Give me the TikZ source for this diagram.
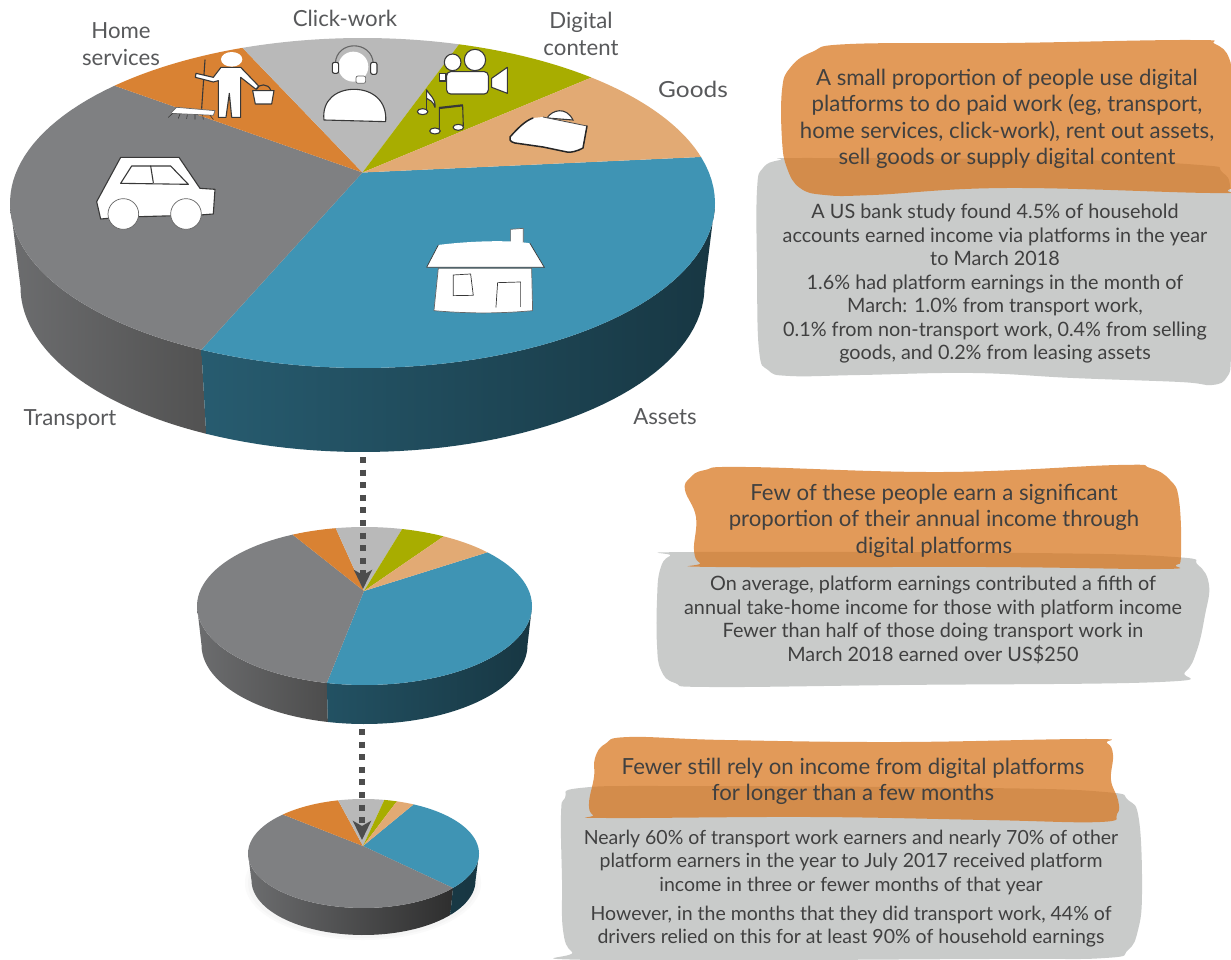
\documentclass[tikz,border=0pt]{standalone}
\usepackage{fontspec}
\setmainfont{Lato}
\usetikzlibrary{arrows.meta}
\definecolor{cTransport}{HTML}{7F8082}
\definecolor{cAssets}{HTML}{3F94B4}
\definecolor{cGoods}{HTML}{E2AA74}
\definecolor{cDigital}{HTML}{A8AD00}
\definecolor{cClick}{HTML}{B9B9B9}
\definecolor{cHome}{HTML}{D98233}
\definecolor{cBlobGrey}{HTML}{C9CBCA}
\definecolor{cBlobOrange}{HTML}{D8741A}
\definecolor{cLabel}{HTML}{58595B}
\definecolor{cInk}{HTML}{404040}
\definecolor{cArrow}{HTML}{4D4D4D}
\newcommand{\slicepart}[9]{\fill[#9] (#7,#8) -- plot[domain=#5:#6,samples=50,variable=\t] ({#1+#3*cos(\t)},{#2-#4*sin(\t)}) -- cycle;}
% cx cy rx ry | cy2 rx2 | t1 t2 | style
\newcommand{\sidepart}[9]{\shade[#9] plot[domain=#7:#8,samples=50,variable=\t] ({#1+#3*cos(\t)},{#2-#4*sin(\t)}) -- plot[domain=#8:#7,samples=50,variable=\t] ({#1+#6*cos(\t)},{#5-#4*sin(\t)}) -- cycle;}
\tikzset{
  blobgrey/.style={fill=cBlobGrey},
  bloborange/.style={fill=cBlobOrange,fill opacity=.72},
  headtext/.style={text=black!75,inner sep=0pt,align=center,font=\fontsize{22.2}{26.4}\selectfont},
  bodytext/.style={text=cInk,inner sep=0pt,align=center,font=\fontsize{19.8}{23.5}\selectfont},
  pielabel/.style={text=cLabel,inner sep=0pt,align=center,font=\fontsize{22.2}{26.3}\selectfont},
  icon/.style={fill=white,draw=black!78,line width=1.1pt,line join=round},
  iconw/.style={fill=white,draw=black!60,line width=.7pt,line join=round},
  sketch/.style={draw=black!78,line width=1.1pt,line cap=round},
  flow/.style={draw=cArrow,line width=6pt,dash pattern=on 6pt off 6.6pt,
    -{Stealth[length=19pt,width=18pt,inset=5pt,fill=cArrow]}},
  zoomed/.style={x=.3333pt,y=-.3333pt},
}
\begin{document}
\begin{tikzpicture}[x=1pt,y=-1pt]
\useasboundingbox (0,0) rectangle (1231,960);
\fill[white] (0,0) rectangle (1231,960);

% ---------- big pie
\sidepart{362.5}{203}{352.5}{165}{287}{342}{180}{242.8}{left color=cTransport!85!black,right color=black!68}
\sidepart{362.5}{203}{352.5}{165}{287}{342}{242.8}{360}{left color=cAssets!62!black,middle color=cAssets!38!black,right color=cAssets!37!black}
\slicepart{362.5}{203}{352.5}{165}{242.8}{376.2}{362.5}{172.5}{cAssets}
\slicepart{362.5}{203}{352.5}{165}{134.7}{242.8}{362.5}{172.5}{cTransport}
\slicepart{362.5}{203}{352.5}{165}{109.9}{134.7}{362.5}{172.5}{cHome}
\slicepart{362.5}{203}{352.5}{165}{74.1}{109.9}{362.5}{172.5}{cClick}
\slicepart{362.5}{203}{352.5}{165}{49.5}{74.1}{362.5}{172.5}{cDigital}
\slicepart{362.5}{203}{352.5}{165}{16.2}{49.5}{362.5}{172.5}{cGoods}

% ---------- middle pie
\sidepart{364.5}{606}{167.5}{79}{645}{163}{180}{257}{left color=cTransport!85!black,right color=black!70}
\sidepart{364.5}{606}{167.5}{79}{645}{163}{257}{360}{left color=cAssets!55!black,middle color=cAssets!38!black,right color=cAssets!37!black}
\slicepart{364.5}{606}{167.5}{79}{257}{402.8}{364}{591}{cAssets}
\slicepart{364.5}{606}{167.5}{79}{115.4}{257}{364}{591}{cTransport}
\slicepart{364.5}{606}{167.5}{79}{99.9}{115.4}{364}{591}{cHome}
\slicepart{364.5}{606}{167.5}{79}{77}{99.9}{364}{591}{cClick}
\slicepart{364.5}{606}{167.5}{79}{61.8}{77}{364}{591}{cDigital}
\slicepart{364.5}{606}{167.5}{79}{42.8}{61.8}{364}{591}{cGoods}

% ---------- small pie
\fill[black!2] (363,883) ellipse [x radius=118,y radius=57];
\fill[black!4] (363,883) ellipse [x radius=115,y radius=55];
\sidepart{363.5}{853.5}{115.5}{54.5}{880.5}{112}{180}{320.8}{left color=cTransport!85!black,right color=black!82}
\sidepart{363.5}{853.5}{115.5}{54.5}{880.5}{112}{320.8}{360}{left color=cAssets!38!black,right color=cAssets!37!black}
\slicepart{363.5}{853.5}{115.5}{54.5}{320.8}{424.3}{363}{846}{cAssets}
\slicepart{363.5}{853.5}{115.5}{54.5}{134.3}{320.8}{363}{846}{cTransport}
\slicepart{363.5}{853.5}{115.5}{54.5}{102.7}{134.3}{363}{846}{cHome}
\slicepart{363.5}{853.5}{115.5}{54.5}{79.6}{102.7}{363}{846}{cClick}
\slicepart{363.5}{853.5}{115.5}{54.5}{73.2}{79.6}{363}{846}{cDigital}
\slicepart{363.5}{853.5}{115.5}{54.5}{64.3}{73.2}{363}{846}{cGoods}

% ---------- flow connectors
\coordinate (bigPieBase) at (363,457);
\coordinate (midPieApex) at (363,589);
\coordinate (midPieBase) at (362,729);
\coordinate (smallPieApex) at (362,840);
\draw[flow] (bigPieBase) -- (midPieApex);
\draw[flow] (midPieBase) -- (smallPieApex);

% ---------- icons: person with broom and bucket
\begin{scope}[shift={(150,30)},zoomed]
  \draw[sketch] (165,90) -- (155,235);
  \draw[iconw] (80,232) -- (195,242) -- (190,256) -- (62,250) -- cycle;
  \draw[sketch,line width=.6pt] (55,262) -- (68,250) (85,265) -- (90,252) (110,266) -- (112,254) (135,268) -- (135,255) (160,268) -- (158,256) (190,268) -- (180,256);
  \draw[icon] (138,130) -- (190,142) -- (213,112) -- (272,112) -- (326,168) -- (318,178) -- (272,142) -- (272,262) -- (245,262) -- (238,190) -- (228,262) -- (205,262) -- (205,152) -- (190,156) -- (136,142) -- cycle;
  \fill[white] (245,88) ellipse [x radius=32,y radius=22];
  \draw[icon] (308,182) -- (372,182) -- (365,222) -- (316,222) -- cycle;
  \draw[sketch] (320,178) .. controls (325,160) and (355,160) .. (362,180);
\end{scope}
% headset operator
\begin{scope}[shift={(150,30)},zoomed]
  \draw[sketch,draw=black!60] (556,100) .. controls (560,30) and (665,30) .. (670,100);
  \fill[white] (610,110) circle [radius=45];
  \draw[icon,rounded corners=2pt] (547,97) rectangle (566,130);
  \draw[icon,rounded corners=2pt] (662,97) rectangle (681,133);
  \draw[iconw,rounded corners=2pt] (618,138) rectangle (647,160);
  \draw[icon] (522,270) .. controls (515,210) and (560,178) .. (612,178) .. controls (670,178) and (712,215) .. (707,275) -- cycle;
\end{scope}
% film camera and notes
\begin{scope}[shift={(150,30)},zoomed]
  \draw[icon] (908,97) circle [radius=25];
  \draw[icon] (975,90) circle [radius=32];
  \draw[icon] (868,130) rectangle (888,153);
  \draw[icon,rounded corners=4pt] (890,125) rectangle (1015,192);
  \draw[icon] (1025,145) -- (1072,112) -- (1072,190) -- (1025,172) -- cycle;
  \draw[icon] (818,245) ellipse [x radius=16,y radius=9];
  \draw[sketch] (830,240) -- (830,180);
  \draw[icon] (830,180) .. controls (838,195) and (858,205) .. (855,232) .. controls (850,215) and (840,210) .. (830,205) -- cycle;
  \draw[icon] (855,303) ellipse [x radius=16,y radius=9];
  \draw[icon] (925,292) ellipse [x radius=16,y radius=9];
  \draw[sketch] (868,298) -- (868,232) (940,287) -- (938,225);
  \draw[draw=black!78,line width=2.2pt] (868,234) -- (938,226);
\end{scope}
% handbag
\draw[sketch,fill=white] (547,118) .. controls (552,110) and (566,106) .. (573,120) -- cycle;
\fill[white] (510,137) .. controls (518,128) and (525,121) .. (533,118) -- (543,117) -- (587,126) -- (583,148) .. controls (578,151) and (570,153) .. (567,152) -- (543,147) -- (515,143) .. controls (510,142) and (509,139) .. (510,137) -- cycle;
\draw[draw=black!85,line width=1.5pt,line cap=round,line join=round] (533,118) .. controls (525,121) and (518,128) .. (510,137) .. controls (509,139) and (510,142) .. (515,143) -- (543,147) -- (567,152) .. controls (570,153) and (578,151) .. (583,148) -- (587,126);
\draw[draw=black!70,line width=.8pt] (543,117) -- (587,126);
% car
\begin{scope}[shift={(80,150)},zoomed]
  \draw[icon] (50,155) -- (122,22) -- (297,22) -- (360,115) -- (405,118) -- (400,192) -- (360,195) -- (180,200) -- (85,205) -- (62,207) -- cycle;
  \draw[icon] (122,100) -- (155,48) -- (272,48) -- (325,103) -- cycle;
  \draw[sketch] (212,48) -- (220,98);
  \draw[iconw] (130,192) circle [radius=46];
  \draw[iconw] (318,192) circle [radius=46];
\end{scope}
% house
\begin{scope}[shift={(80,150)},zoomed]
  \draw[iconw] (1292,238) -- (1330,235) -- (1330,280) -- (1292,278) -- cycle;
  \draw[iconw] (1075,355) -- (1355,355) -- (1358,482) .. controls (1250,492) and (1150,490) .. (1062,482) -- cycle;
  \fill[white] (1040,352) -- (1075,285) .. controls (1150,275) and (1280,268) .. (1350,280) -- (1393,352) -- cycle;
  \draw[sketch,line width=.7pt] (1040,352) -- (1393,352) (1040,352) -- (1075,285);
  \draw[sketch,line width=.7pt] (1350,280) -- (1393,352);
  \draw[sketch,line width=.7pt] (1120,375) -- (1172,372) -- (1180,436) -- (1120,437) -- cycle;
  \draw[sketch,line width=.7pt] (1248,472) -- (1253,398) -- (1322,396) -- (1322,470);
\end{scope}

% ---------- pie labels
\node[pielabel] (lblHome) at (121,44) {Home\\services};
\node[pielabel] (lblClick) at (345,18) {Click-work};
\node[pielabel] (lblDigital) at (581,34) {Digital\\content};
\node[pielabel] (lblGoods) at (693,89) {\scalebox{1.1}[1]{Goods}};
\node[pielabel] (lblTransport) at (70,419) {Transport};
\node[pielabel] (lblAssets) at (665,417) {Assets};

% ---------- text blobs, first
\fill[blobgrey] plot[smooth cycle,tension=.7] coordinates {(757,190) (763,168) (780,160) (810,158) (1073,160) (1200,165) (1222,172) (1231,195) (1231,280) (1231,355) (1227,377) (1212,385) (1180,382) (1073,378) (973,373) (860,375) (790,376) (768,370) (759,350) (757,270)};
\fill[bloborange] plot[smooth cycle,tension=.7] coordinates {(782,140) (782,90) (790,68) (812,52) (850,44) (1007,43) (1190,40) (1215,44) (1229,58) (1231,85) (1231,175) (1228,190) (1210,193) (1007,188) (873,195) (825,195) (800,188) (787,168)};
\node[headtext] (h1) at (1007,119) {A small proportion of people use digital\\platforms to do paid work (eg, transport,\\home services, click-work), rent out assets,\\sell goods or supply digital content};
\node[bodytext] (b1) at (995,284) {A US bank study found 4.5\% of household\\accounts earned income via platforms in the year\\to March 2018\\1.6\% had platform earnings in the month of\\March: 1.0\% from transport work,\\0.1\% from non-transport work, 0.4\% from selling\\goods, and 0.2\% from leasing assets};

% second
\fill[blobgrey] plot[smooth cycle,tension=.7] coordinates {(657,600) (660,570) (670,556) (694,552) (1030,553) (1175,557) (1198,565) (1209,585) (1205,615) (1197,650) (1185,672) (1160,682) (899,685) (710,687) (675,683) (661,670) (657,645)};
\fill[bloborange] plot[smooth cycle,tension=.7] coordinates {(685,490) (690,478) (705,470) (746,467) (943,472) (1118,465) (1150,468) (1170,480) (1179,500) (1181,555) (1176,565) (1160,569) (987,567) (716,567) (700,563) (694,550) (696,517)};
\node[headtext] (h2) at (934,520.5) {Few of these people earn a significant\\proportion of their annual income through\\digital platforms};
\node[bodytext] (b2) at (933,620) {On average, platform earnings contributed a fifth of\\annual take-home income for those with platform income\\Fewer than half of those doing transport work in\\March 2018 earned over US\$250};

% third
\fill[blobgrey] plot[smooth cycle,tension=.7] coordinates {(561,815) (565,798) (580,788) (681,786) (987,788) (1105,792) (1128,800) (1139,820) (1142,893) (1138,930) (1128,950) (1105,958) (987,959) (594,960) (572,952) (563,930) (562,880)};
\fill[bloborange] plot[smooth cycle,tension=.7] coordinates {(594,777) (595,758) (605,744) (629,737) (725,740) (899,742) (1090,739) (1107,743) (1113,755) (1111,780) (1118,800) (1117,814) (1100,822) (987,820) (812,817) (607,818) (593,815) (589,803)};
\node[headtext] (h3) at (853,781.5) {Fewer still rely on income from digital platforms\\for longer than a few months};
\node[bodytext,font=\fontsize{19.5}{23.5}\selectfont] (b3a) at (851,862) {Nearly 60\% of transport work earners and nearly 70\% of other\\platform earners in the year to July 2017 received platform\\income in three or fewer months of that year};
\node[bodytext,font=\fontsize{19.5}{23.5}\selectfont] (b3b) at (851,926.5) {However, in the months that they did transport work, 44\% of\\drivers relied on this for at least 90\% of household earnings};
\end{tikzpicture}
\end{document}
